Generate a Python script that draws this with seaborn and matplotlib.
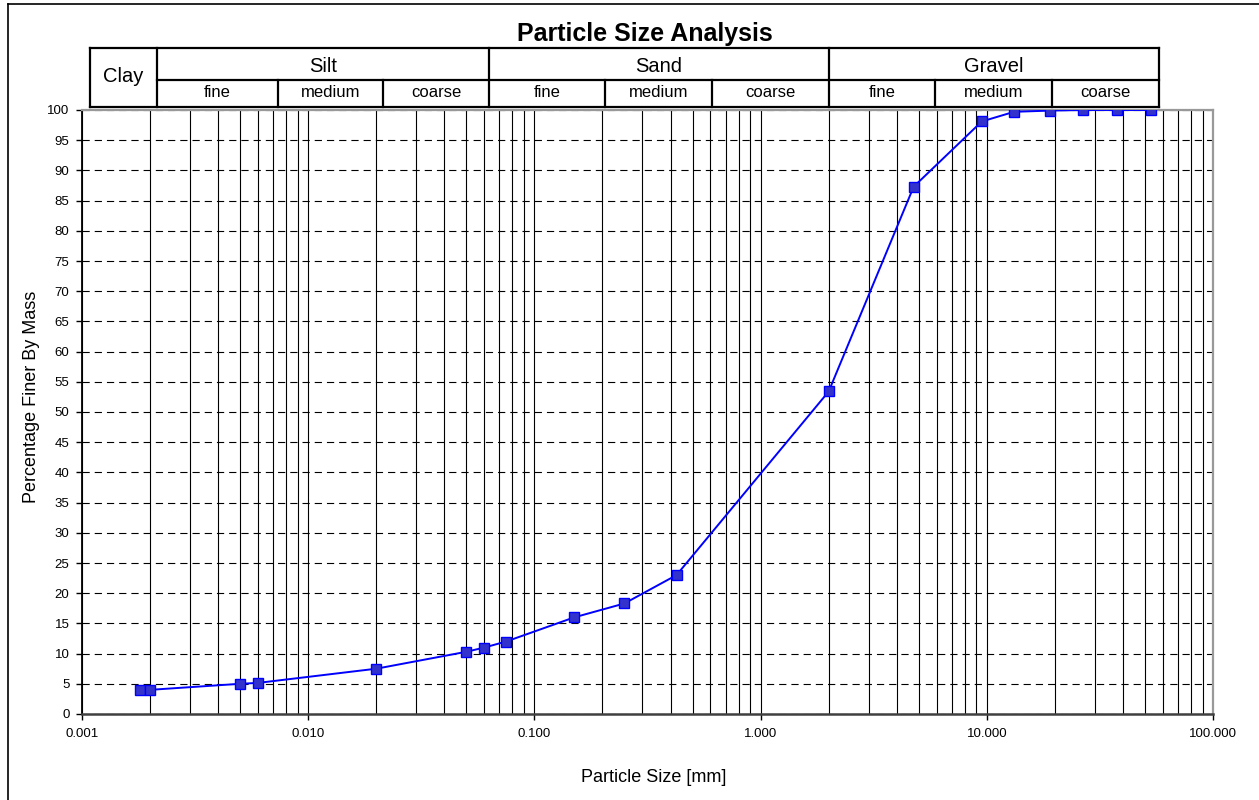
import matplotlib
matplotlib.use("Agg")
import matplotlib.pyplot as plt
from matplotlib.lines import Line2D
from matplotlib.ticker import LogLocator, FixedLocator, FuncFormatter, NullFormatter
import seaborn as sns
import pandas as pd

# ---- data ----
particle_size_mm = [0.0018, 0.002, 0.005, 0.006, 0.02, 0.05, 0.06, 0.075, 0.15,
                    0.25, 0.425, 2.0, 4.75, 9.5, 13.2, 19.0, 26.5, 37.5, 53.0]
percent_finer = [3.9, 4.0, 5.0, 5.15, 7.5, 10.3, 11.0, 12.0, 16.0,
                 18.3, 23.0, 53.4, 87.3, 98.1, 99.7, 99.9, 100.0, 100.0, 100.0]
y_ticks = list(range(0, 101, 5))
x_major = [0.001, 0.01, 0.1, 1, 10, 100]

main_classes = ["Silt", "Sand", "Gravel"]
sub_classes = ["fine", "medium", "coarse"]

W, H = 1259, 800
sns.set_theme(style="white")
plt.rcParams['font.family'] = ['Liberation Sans', 'DejaVu Sans']
plt.rcParams['text.color'] = 'black'
plt.rcParams['axes.labelcolor'] = 'black'
plt.rcParams['xtick.color'] = 'black'
plt.rcParams['ytick.color'] = 'black'

fig = plt.figure(figsize=(W / 100, H / 100), dpi=100)
ax = fig.add_axes([82 / W, 1 - 714 / H, (1213 - 82) / W, (714 - 110) / H])

df = pd.DataFrame({"size": particle_size_mm, "finer": percent_finer})
sns.lineplot(data=df, x="size", y="finer", ax=ax, sort=False, estimator=None,
             color="#0000FF", linewidth=1.4, marker="s", markersize=7.5,
             markerfacecolor="#3333CC", markeredgecolor="#0000FF",
             markeredgewidth=1.0, zorder=5)

ax.set_xscale("log")
ax.set_xlim(0.001, 100)
ax.set_ylim(0, 100)
ax.xaxis.set_major_locator(FixedLocator(x_major))
ax.xaxis.set_major_formatter(FuncFormatter(lambda v, p: f"{v:.3f}"))
ax.xaxis.set_minor_locator(LogLocator(base=10, subs=[2, 3, 4, 5, 6, 7, 8, 9], numticks=50))
ax.xaxis.set_minor_formatter(NullFormatter())
ax.yaxis.set_major_locator(FixedLocator(y_ticks))

ax.set_axisbelow(True)
ax.grid(which="major", axis="x", color="black", linestyle="-", linewidth=0.8)
ax.grid(which="minor", axis="x", color="black", linestyle="-", linewidth=0.8)
ax.grid(which="major", axis="y", color="black", linestyle=(0, (6.5, 4.5)), linewidth=0.8)

ax.tick_params(axis="both", which="major", labelsize=9.5, colors="black",
               direction="out", length=4, width=1, bottom=True, left=True)
ax.tick_params(axis="x", which="major", pad=6)
ax.tick_params(axis="y", which="major", pad=5)
ax.tick_params(axis="x", which="minor", length=0)

ax.spines["left"].set_color("black"); ax.spines["left"].set_linewidth(1.3)
ax.spines["bottom"].set_color("#404040"); ax.spines["bottom"].set_linewidth(1.8)
for s in ["top", "right"]:
    ax.spines[s].set_color("#999999"); ax.spines[s].set_linewidth(1.6)

ax.set_xlabel("")
ax.set_ylabel("")

def fx(x):
    return x / W

def fy(y):
    return 1 - y / H

def hline(y, x0, x1, lw=1.6):
    fig.add_artist(Line2D([fx(x0), fx(x1)], [fy(y), fy(y)], transform=fig.transFigure,
                          color="black", linewidth=lw, solid_capstyle="projecting"))

def vline(x, y0, y1, lw=1.6):
    fig.add_artist(Line2D([fx(x), fx(x)], [fy(y0), fy(y1)], transform=fig.transFigure,
                          color="black", linewidth=lw, solid_capstyle="projecting"))

# outer frame (left and top visible)
hline(4, 8, 1262, lw=1.2)
vline(8, 4, 803, lw=1.2)

# header table
top, mid, bot = 48, 80, 107
hline(top, 90, 1159)
hline(mid, 157, 1159)
hline(bot, 90, 1159)
for x in [90, 157, 489, 829, 1159]:
    vline(x, top, bot)
for x in [278, 383, 605, 712, 935, 1052]:
    vline(x, mid, bot)

fig.text(fx(123.5), fy(77), "Clay", ha="center", va="center", fontsize=14.5, color="black")
main_bounds = [(157, 489), (489, 829), (829, 1159)]
for name, (a, b) in zip(main_classes, main_bounds):
    fig.text(fx((a + b) / 2), fy(66), name, ha="center", va="center", fontsize=14.5, color="black")
sub_bounds = [(157, 278), (278, 383), (383, 489),
              (489, 605), (605, 712), (712, 829),
              (829, 935), (935, 1052), (1052, 1159)]
for i, (a, b) in enumerate(sub_bounds):
    fig.text(fx((a + b) / 2), fy(92.5), sub_classes[i % 3], ha="center", va="center",
             fontsize=12, color="black")

fig.text(fx(645), fy(34), "Particle Size Analysis", ha="center", va="center",
         fontsize=18, fontweight="bold", color="black")
fig.text(fx(654), fy(778), "Particle Size [mm]", ha="center", va="center", fontsize=13, color="black")
fig.text(fx(32), fy(397), "Percentage Finer By Mass", ha="center", va="center",
         fontsize=13, rotation=90, color="black")

fig.savefig("out.png", dpi=100, facecolor="white")
